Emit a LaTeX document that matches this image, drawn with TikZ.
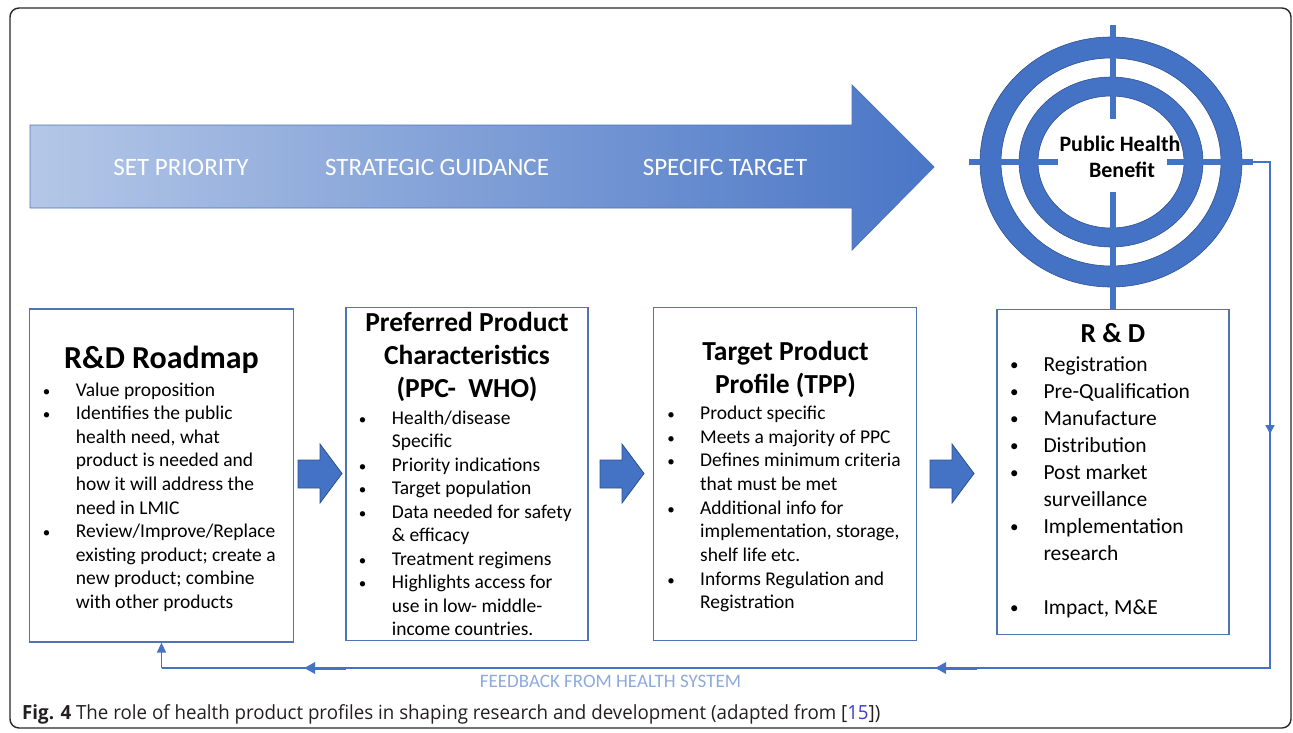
\documentclass[tikz,border=0pt]{standalone}
\usepackage{fontspec}
\setmainfont{Carlito}
\newfontfamily\capfont[FakeStretch=0.96]{Open Sans}
\usetikzlibrary{arrows.meta}
\definecolor{bl}{HTML}{4472C4}
\definecolor{bldark}{HTML}{2F528F}
\definecolor{bxline}{HTML}{5073B3}
\definecolor{arrL}{HTML}{B4C7E7}
\definecolor{arrR}{HTML}{4A76C6}
\definecolor{fbtxt}{HTML}{8EA9DB}
\definecolor{captxt}{HTML}{231F20}
\definecolor{citeblue}{HTML}{3D3DD6}
\newcommand\Bt[4]{\node[blt] (#1b) at ({#2-29},{#3}) {•}; \node[ln] (#1) at (#2,{#3}) {#4};}
\newcommand\Ct[4]{\node[ln] (#1) at (#2,{#3}) {#4};}
\newcommand\Btw[4]{\node[blt,font=\fontsize{17}{20}\selectfont] (#1b) at ({#2-29},{#3-1}) {•}; \node[lnw] (#1) at (#2,{#3}) {#4};}
\newcommand\Ctw[4]{\node[lnw] (#1) at (#2,{#3}) {#4};}
\begin{document}
\begin{tikzpicture}[x=1pt,y=-1pt,
  bx/.style={draw=bxline,line width=1.2pt},
  ln/.style={anchor=base west,inner sep=0pt,font=\fontsize{19.5}{23}\selectfont},
  lnw/.style={anchor=base west,inner sep=0pt,font=\fontsize{21.5}{24}\selectfont},
  blt/.style={anchor=base,inner sep=0pt,font=\fontsize{15}{18}\selectfont},
  ttl/.style={anchor=base,inner sep=0pt,font=\bfseries\fontsize{27.5}{30}\selectfont},
  blk/.style={fill=bl,draw=bldark,line width=0.8pt},
  fb/.style={draw=bl,line width=1.5pt},
  fbhead/.style={draw=bl,line width=3pt,-{Triangle[width=11pt,length=11pt]}},
  bar/.style={fill=bl,draw=none},
  arrtxt/.style={anchor=base,inner sep=0pt,text=white,font=\fontsize{25}{28}\selectfont}]
\useasboundingbox (0,0) rectangle (1293,732);
% outer frame
\draw[line width=1.4pt,rounded corners=9pt,draw=black!85] (10,8) rectangle (1291,728);

% big arrow
\shade[left color=arrL,right color=arrR,draw=bxline,line width=0.8pt]
  (30,125) -- (852,125) -- (852,85) -- (934,167) -- (852,250) -- (852,208) -- (30,208) -- cycle;
\node[arrtxt] (t1) at (181,175) {SET PRIORITY};
\node[arrtxt] (t2) at (437,175) {STRATEGIC GUIDANCE};
\node[arrtxt] (t3) at (725,175) {SPECIFC TARGET};

% target
\fill[bl,draw=bldark,line width=0.6pt,even odd rule]
  (1111,162) ellipse [x radius=131pt,y radius=125pt]
  (1111,162) ellipse [x radius=110pt,y radius=104pt];
\fill[bl,draw=bldark,line width=0.6pt,even odd rule]
  (1111,162) ellipse [x radius=92pt,y radius=85pt]
  (1111,162) ellipse [x radius=73pt,y radius=66pt];
\fill[bar] (1110,25) rectangle (1116,119);
\fill[bar] (1110,192) rectangle (1116,309);
\fill[bar] (969,159) rectangle (1058,165);
\fill[bar] (1167,159) rectangle (1253,165);
\coordinate (barR) at (1253,162);
\node[anchor=base,inner sep=0pt,font=\bfseries\fontsize{22}{24}\selectfont] (ph1) at (1120,151) {Public Health};
\node[anchor=base,inner sep=0pt,font=\bfseries\fontsize{22}{24}\selectfont] (ph2) at (1122,177) {Benefit};

% boxes
\node[bx,minimum width=264pt,minimum height=333pt,inner sep=0pt] (box1) at (161.5,475.5) {};
\node[bx,minimum width=242pt,minimum height=333pt,inner sep=0pt] (box2) at (467,474) {};
\node[bx,minimum width=263pt,minimum height=333pt,inner sep=0pt] (box3) at (785,474) {};
\node[bx,minimum width=232pt,minimum height=325pt,inner sep=0pt] (box4) at (1113,471.8) {};

% box 1
\node[ttl,font=\bfseries\fontsize{32}{34}\selectfont] (h1) at (161.5,368.5) {R\&D Roadmap};
\def\ya{396}\def\da{23.6}
\Bt{a0}{75.7}{\ya}{Value proposition}
\Bt{a1}{75.7}{\ya+\da}{Identifies the public}
\Ct{a2}{75.7}{\ya+2*\da}{health need, what}
\Ct{a3}{75.7}{\ya+3*\da}{product is needed and}
\Ct{a4}{75.7}{\ya+4*\da}{how it will address the}
\Ct{a5}{75.7}{\ya+5*\da}{need in LMIC}
\Bt{a6}{75.7}{\ya+6*\da}{Review/Improve/Replace}
\Ct{a7}{75.7}{\ya+7*\da}{existing product; create a}
\Ct{a8}{75.7}{\ya+8*\da}{new product; combine}
\Ct{a9}{75.7}{\ya+9*\da}{with other products}

% box 2
\node[ttl] (h2a) at (467,331.5) {Preferred Product};
\node[ttl] (h2b) at (467,364.5) {Characteristics};
\node[ttl] (h2c) at (467,397) {(PPC-\ \ WHO)};
\def\yb{424}\def\db{23.5}
\Bt{b0}{391.7}{\yb}{Health/disease}
\Ct{b1}{391.7}{\yb+\db}{Specific}
\Bt{b2}{391.7}{\yb+2*\db}{Priority indications}
\Bt{b3}{391.7}{\yb+3*\db}{Target population}
\Bt{b4}{391.7}{\yb+4*\db}{Data needed for safety}
\Ct{b5}{391.7}{\yb+5*\db}{\& efficacy}
\Bt{b6}{391.7}{\yb+6*\db}{Treatment regimens}
\Bt{b7}{391.7}{\yb+7*\db}{Highlights access for}
\Ct{b8}{391.7}{\yb+8*\db}{use in low- middle-}
\Ct{b9}{391.7}{\yb+9*\db}{income countries.}

% box 3
\node[ttl] (h3a) at (785.5,360) {Target Product};
\node[ttl] (h3b) at (785.5,393.3) {Profile (TPP)};
\def\yc{419.3}\def\dc{23.7}
\Bt{c0}{700}{\yc}{Product specific}
\Bt{c1}{700}{\yc+\dc}{Meets a majority of PPC}
\Bt{c2}{700}{\yc+2*\dc}{Defines minimum criteria}
\Ct{c3}{700}{\yc+3*\dc}{that must be met}
\Bt{c4}{700}{\yc+4*\dc}{Additional info for}
\Ct{c5}{700}{\yc+5*\dc}{implementation, storage,}
\Ct{c6}{700}{\yc+6*\dc}{shelf life etc.}
\Bt{c7}{700}{\yc+7*\dc}{Informs Regulation and}
\Ct{c8}{700}{\yc+8*\dc}{Registration}

% box 4
\node[ttl] (h4) at (1113,342.7) {R \& D};
\def\yd{371}\def\dd{27.1}
\Btw{d0}{1043.3}{\yd}{Registration}
\Btw{d1}{1043.3}{\yd+\dd}{Pre-Qualification}
\Btw{d2}{1043.3}{\yd+2*\dd}{Manufacture}
\Btw{d3}{1043.3}{\yd+3*\dd}{Distribution}
\Btw{d4}{1043.3}{\yd+4*\dd}{Post market}
\Ctw{d5}{1043.3}{\yd+5*\dd}{surveillance}
\Btw{d6}{1043.3}{\yd+6*\dd}{Implementation}
\Ctw{d7}{1043.3}{\yd+7*\dd}{research}
\Btw{d9}{1043.3}{\yd+9*\dd}{Impact, M\&E}

% block arrows between boxes
\foreach \x/\n in {298/ba1,600/ba2,930/ba3}{
  \draw[blk] (\x,460) -- (\x+22,460) -- (\x+22,444) -- (\x+44,473.5) -- (\x+22,503) -- (\x+22,488) -- (\x,488) -- cycle;
}

% feedback loop
\coordinate (fbA) at (1270,162);
\coordinate (fbB) at (1270,434);
\coordinate (fbC) at (1270,668);
\coordinate (fbD) at (161.5,668);
\coordinate (fbE1) at (977,668);
\coordinate (fbE2) at (935,668);
\coordinate (fbF1) at (346,668);
\coordinate (fbF2) at (304,668);
\draw[fb] (barR) -- (fbA) -- (fbC) -- (fbD);
\draw[fb,-{Triangle[width=9pt,length=9pt]}] (fbA) -- (fbB);
\draw[fb,-{Triangle[width=9pt,length=10pt]}] (fbD) -- (box1.south);
\draw[fbhead] (fbE1) -- (fbE2);
\draw[fbhead] (fbF1) -- (fbF2);
\node[anchor=base,inner sep=0pt,text=fbtxt,font=\fontsize{19}{21}\selectfont] (fbt) at (610.5,687.5) {FEEDBACK FROM HEALTH SYSTEM};

% caption
\node[anchor=base west,inner sep=0pt,text=captxt,font=\capfont\fontsize{19.5}{22}\selectfont] (cap) at (22,719)
  {\textbf{Fig. 4} The role of health product profiles in shaping research and development (adapted from [{\color{citeblue}15}])};
\end{tikzpicture}
\end{document}
